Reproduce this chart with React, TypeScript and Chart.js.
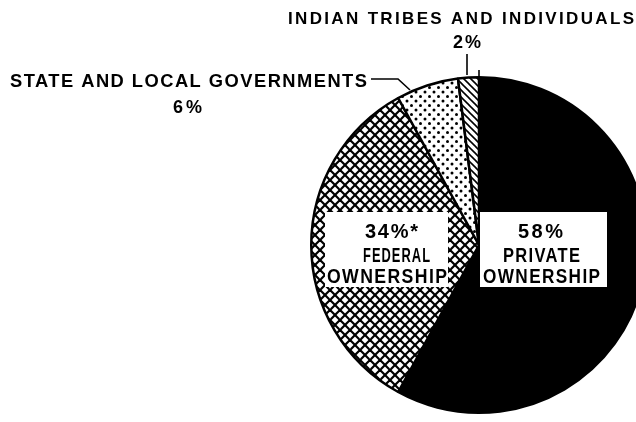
import { useEffect, useRef } from 'react';
import { Chart, registerables } from 'chart.js';

Chart.register(...registerables);

const categories = [
  'Private Ownership',
  'Federal Ownership',
  'State and Local Governments',
  'Indian Tribes and Individuals',
];
const shares = [58, 34, 6, 2];

// text blocks: [text, left, right, baseline, fontSize]
const outsideTexts: [string, number, number, number, number][] = [
  ['INDIAN TRIBES AND INDIVIDUALS', 288, 634, 24, 17],
  ['2%', 453, 481, 48, 18],
  ['STATE AND LOCAL GOVERNMENTS', 10, 367, 87, 19],
  ['6%', 173, 202, 113, 18],
];
const privateTexts: [string, number, number, number, number][] = [
  ['58%', 518, 563, 238, 20],
  ['PRIVATE', 503, 580, 262, 20],
  ['OWNERSHIP', 483, 600, 283, 20],
];
const federalTexts: [string, number, number, number, number][] = [
  ['34%*', 365, 418, 238, 20],
  ['FEDERAL', 363, 430, 262, 20],
  ['OWNERSHIP', 327, 447, 283, 20],
];
// white label boxes [x, y, w, h]
const boxes: [number, number, number, number][] = [
  [480, 212, 127, 75],
  [325, 212, 123, 75],
];
// leader lines
const leaders: [number, number][][] = [
  [[467, 54], [467, 75]],
  [[371, 79], [398, 79], [410, 90]],
  [[479, 70], [479, 77]],
];

function makePattern(kind: string): CanvasPattern | string {
  const c = document.createElement('canvas');
  const size = kind === 'cross' ? 10 : kind === 'dots' ? 9 : 7;
  c.width = size;
  c.height = size;
  const g = c.getContext('2d');
  if (!g) return '#fff';
  g.fillStyle = '#fff';
  g.fillRect(0, 0, size, size);
  g.strokeStyle = '#000';
  g.fillStyle = '#000';
  if (kind === 'cross') {
    g.lineWidth = 2.2;
    for (const off of [-size, 0, size]) {
      g.beginPath();
      g.moveTo(off - 2, -2);
      g.lineTo(off + size + 2, size + 2);
      g.stroke();
      g.beginPath();
      g.moveTo(off + size + 2, -2);
      g.lineTo(off - 2, size + 2);
      g.stroke();
    }
  } else if (kind === 'dots') {
    for (const [x, y] of [[2, 2], [6.5, 6.5]]) {
      g.beginPath();
      g.arc(x, y, 1.5, 0, Math.PI * 2);
      g.fill();
    }
  } else {
    g.lineWidth = 1.6;
    for (const off of [-size, 0, size]) {
      g.beginPath();
      g.moveTo(off - 2, -2);
      g.lineTo(off + size + 2, size + 2);
      g.stroke();
    }
  }
  const p = g.createPattern(c, 'repeat');
  return p || '#fff';
}

function drawFit(ctx: CanvasRenderingContext2D, t: [string, number, number, number, number]) {
  const [text, left, right, base, size] = t;
  const target = right - left;
  const n = text.length;
  const baseSpacing = size * 0.08;
  ctx.font = `bold ${size}px "Liberation Sans", Arial, sans-serif`;
  (ctx as any).letterSpacing = `${baseSpacing}px`;
  const w0 = ctx.measureText(text).width - baseSpacing;
  ctx.textAlign = 'left';
  ctx.textBaseline = 'alphabetic';
  ctx.fillStyle = '#000';
  ctx.save();
  if (w0 > target) {
    ctx.translate(left, base);
    ctx.scale(target / w0, 1);
    ctx.fillText(text, 0, 0);
  } else {
    const ls = baseSpacing + (n > 1 ? (target - w0) / (n - 1) : 0);
    (ctx as any).letterSpacing = `${ls}px`;
    ctx.fillText(text, left, base);
  }
  ctx.restore();
  (ctx as any).letterSpacing = '0px';
}

const labelPlugin = {
  id: 'labelPlugin',
  afterDraw(chart: any) {
    const ctx: CanvasRenderingContext2D = chart.ctx;
    ctx.save();
    ctx.fillStyle = '#fff';
    for (const [x, y, w, h] of boxes) ctx.fillRect(x, y, w, h);
    for (const t of privateTexts) drawFit(ctx, t);
    for (const t of federalTexts) drawFit(ctx, t);
    for (const t of outsideTexts) drawFit(ctx, t);
    ctx.strokeStyle = '#000';
    ctx.lineWidth = 1.6;
    for (const pts of leaders) {
      ctx.beginPath();
      pts.forEach(([x, y], i) => (i === 0 ? ctx.moveTo(x, y) : ctx.lineTo(x, y)));
      ctx.stroke();
    }
    ctx.restore();
  },
};

export default function App() {
  const ref = useRef<HTMLCanvasElement | null>(null);
  useEffect(() => {
    if (!ref.current) return;
    const chart = new Chart(ref.current, {
      type: 'pie',
      data: {
        labels: categories,
        datasets: [
          {
            data: shares,
            backgroundColor: ['#000', makePattern('cross'), makePattern('dots'), makePattern('hatch')] as any,
            borderColor: '#000',
            borderWidth: 2.5,
            hoverOffset: 0,
          },
        ],
      },
      options: {
        animation: false,
        responsive: false,
        devicePixelRatio: 1,
        events: [],
        layout: { padding: { left: 310, right: 12, top: 76, bottom: 8 } },
        plugins: { legend: { display: false }, tooltip: { enabled: false } },
      },
      plugins: [labelPlugin],
    });
    return () => chart.destroy();
  }, []);
  return (
    <div style={{ position: 'fixed', left: 0, top: 0, width: 636, height: 422, overflow: 'hidden', background: '#fff' }}>
      <canvas ref={ref} width={660} height={422} style={{ display: 'block' }} />
    </div>
  );
}
